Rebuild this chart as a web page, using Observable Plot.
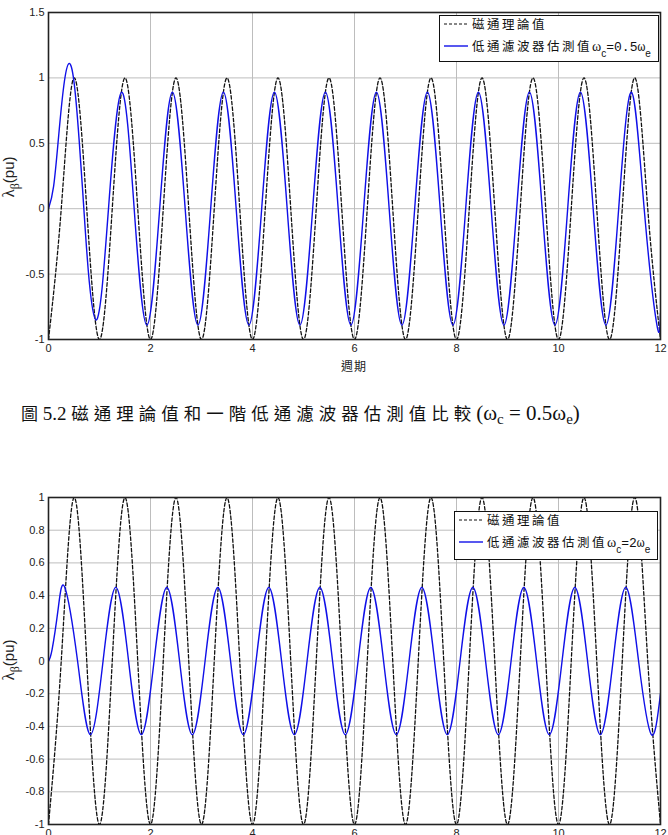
<!DOCTYPE html>
<html>
<head>
<meta charset="utf-8">
<script src="https://cdn.jsdelivr.net/npm/d3@7"></script>
<script src="https://cdn.jsdelivr.net/npm/@observablehq/plot@0.6"></script>
<style>
  html, body { margin: 0; padding: 0; background: #fff; overflow: hidden; }
  #wrap { position: relative; width: 668px; height: 835px; overflow: hidden; background: #fff; }
  #top, #bot { position: absolute; left: 0; }
  #top { top: 0; }
  #bot { top: 485px; }
  #overlay { position: absolute; left: 0; top: 0; pointer-events: none; }
</style>
</head>
<body>
<div id="wrap">
  <div id="top"></div>
  <div id="bot"></div>
  <svg id="overlay" width="668" height="835"></svg>
</div>
<script>
// ---- data ----
const xTicks = [0, 2, 4, 6, 8, 10, 12];
const yTicksTop = [-1, -0.5, 0, 0.5, 1, 1.5];
const yTicksBottom = [-1, -0.8, -0.6, -0.4, -0.2, 0, 0.2, 0.4, 0.6, 0.8, 1];

// theoretical flux (dashed black), sampled at quarter periods
const theoryT = [0,0.25,0.5,0.75,1,1.25,1.5,1.75,2,2.25,2.5,2.75,3,3.25,3.5,3.75,4,4.25,4.5,4.75,5,5.25,5.5,5.75,6,6.25,6.5,6.75,7,7.25,7.5,7.75,8,8.25,8.5,8.75,9,9.25,9.5,9.75,10,10.25,10.5,10.75,11,11.25,11.5,11.75,12];
const theoryY = [-1,0,1,0,-1,0,1,0,-1,0,1,0,-1,0,1,0,-1,0,1,0,-1,0,1,0,-1,0,1,0,-1,0,1,0,-1,0,1,0,-1,0,1,0,-1,0,1,0,-1,0,1,0,-1];

// LPF estimate, wc = 0.5 we (solid blue, top chart)
const lpfHalfT = [0,0.1,0.2,0.3,0.4,0.5,0.6,0.7,0.8,0.93,1.05,1.18,1.43,1.68,1.93,2.18,2.43,2.68,2.93,3.18,3.43,3.68,3.93,4.18,4.43,4.68,4.93,5.18,5.43,5.68,5.93,6.18,6.43,6.68,6.93,7.18,7.43,7.68,7.93,8.18,8.43,8.68,8.93,9.18,9.43,9.68,9.93,10.18,10.43,10.68,10.93,11.18,11.43,11.68,11.93,12];
const lpfHalfY = [0,0.17,0.56,0.94,1.11,0.97,0.53,-0.04,-0.56,-0.85,-0.61,0.02,0.89,0,-0.89,0,0.89,0,-0.89,0,0.89,0,-0.89,0,0.89,0,-0.89,0,0.89,0,-0.89,0,0.89,0,-0.89,0,0.89,0,-0.89,0,0.89,0,-0.89,0,0.89,0,-0.89,0,0.89,0,-0.89,0,0.89,0,-0.89,-0.8];

// LPF estimate, wc = 2 we (solid blue, bottom chart)
const lpfTwoT = [0,0.07,0.19,0.32,0.57,0.82,1.07,1.32,1.57,1.82,2.07,2.32,2.57,2.82,3.07,3.32,3.57,3.82,4.07,4.32,4.57,4.82,5.07,5.32,5.57,5.82,6.07,6.32,6.57,6.82,7.07,7.32,7.57,7.82,8.07,8.32,8.57,8.82,9.07,9.32,9.57,9.82,10.07,10.32,10.57,10.82,11.07,11.32,11.57,11.82,12];
const lpfTwoY = [0,0.07,0.32,0.45,0,-0.45,0,0.45,0,-0.45,0,0.45,0,-0.45,0,0.45,0,-0.45,0,0.45,0,-0.45,0,0.45,0,-0.45,0,0.45,0,-0.45,0,0.45,0,-0.45,0,0.45,0,-0.45,0,0.45,0,-0.45,0,0.45,0,-0.45,0,0.45,0,-0.45,-0.2];

const seriesNames = ["磁通理論值", "低通濾波器估測值"];

// ---- build tables ----
const theory = theoryT.map((t, i) => ({t, v: theoryY[i]}));
const lpfHalf = lpfHalfT.map((t, i) => ({t, v: lpfHalfY[i]}));
const lpfTwo = lpfTwoT.map((t, i) => ({t, v: lpfTwoY[i]}));

const fmt = d => (Math.abs(d) < 1e-9 ? "0" : String(+d.toFixed(1)));

function chart(yDomain, yTicks, est) {
  return Plot.plot({
    width: 668,
    height: 380,
    marginLeft: 48,
    marginRight: 8,
    marginTop: 12,
    marginBottom: 41,
    style: { fontFamily: "'Liberation Sans', Arial, sans-serif", fontSize: "11px", color: "#222", background: "transparent" },
    x: { domain: [0, 12], ticks: xTicks, tickSize: 0, tickPadding: 5, label: null, tickFormat: d => String(d) },
    y: { domain: yDomain, ticks: yTicks, tickSize: 0, tickPadding: 4, label: null, tickFormat: fmt },
    marks: [
      Plot.gridX(xTicks, { stroke: "#bdbdbd", strokeOpacity: 1, strokeWidth: 1 }),
      Plot.gridY(yTicks, { stroke: "#bdbdbd", strokeOpacity: 1, strokeWidth: 1 }),
      Plot.line(theory, { x: "t", y: "v", stroke: "#111", strokeWidth: 1.3, strokeDasharray: "3.5,2.2", curve: "natural", clip: true }),
      Plot.line(est, { x: "t", y: "v", stroke: "#1010e8", strokeWidth: 1.4, curve: "natural", clip: true }),
      Plot.frame({ stroke: "#222", strokeWidth: 1.6 })
    ]
  });
}

document.getElementById("top").appendChild(chart([-1, 1.5], yTicksTop, lpfHalf));
document.getElementById("bot").appendChild(chart([-1, 1], yTicksBottom, lpfTwo));

// ---- overlay texts (labels, legends, caption) ----
const NS = "http://www.w3.org/2000/svg";
const ov = document.getElementById("overlay");
function el(tag, attrs, parent) {
  const e = document.createElementNS(NS, tag);
  for (const k in attrs) e.setAttribute(k, attrs[k]);
  (parent || ov).appendChild(e);
  return e;
}
function tspan(parent, text, attrs) {
  const t = el("tspan", attrs || {}, parent);
  t.textContent = text;
  return t;
}
const CJK = "'Noto Sans CJK TC', 'Noto Sans CJK SC', sans-serif";
const SANS = "'Liberation Sans', Arial, sans-serif";
const SERIF = "'Liberation Serif', 'DejaVu Serif', serif";
const MONO = "'Liberation Mono', 'DejaVu Sans Mono', monospace";

function yLabel(cx, cy) {
  const t = el("text", { transform: `translate(${cx},${cy}) rotate(-90)`, "text-anchor": "middle", fill: "#222" });
  tspan(t, "λ", { "font-family": SERIF, "font-size": 17 });
  tspan(t, "β", { "font-family": SERIF, "font-size": 12, dy: 5 });
  tspan(t, "(pu)", { "font-family": SANS, "font-size": 15, dy: -5 });
}
yLabel(14, 177);
yLabel(14, 660);

// x label of top chart
const xl = el("text", { x: 354, y: 371, "text-anchor": "middle", "font-family": CJK, "font-size": 12, "letter-spacing": 1, fill: "#222" });
xl.textContent = "週期";

function legend(x, y, w, h, ratio) {
  el("rect", { x: x + 0.5, y: y + 0.5, width: w, height: h, fill: "#fff", stroke: "#111", "stroke-width": 1 });
  const r1 = y + 9, r2 = y + 31;
  el("line", { x1: x + 5, x2: x + 29, y1: r1, y2: r1, stroke: "#111", "stroke-width": 1.2, "stroke-dasharray": "3,2" });
  const t1 = el("text", { x: x + 33, y: r1 + 4.5, "font-family": CJK, "font-size": 12.5, "letter-spacing": 2.5, fill: "#111" });
  t1.textContent = seriesNames[0];
  el("line", { x1: x + 5, x2: x + 29, y1: r2, y2: r2, stroke: "#1010e8", "stroke-width": 1.4 });
  const t2 = el("text", { x: x + 33, y: r2 + 4.5, fill: "#111" });
  tspan(t2, seriesNames[1], { "font-family": CJK, "font-size": 12.5, "letter-spacing": 2.5 });
  tspan(t2, "ω", { "font-family": SERIF, "font-size": 14 });
  tspan(t2, "c", { "font-family": SANS, "font-size": 10, dy: 6 });
  tspan(t2, "=" + ratio + "ω", { "font-family": MONO, "font-size": 13, dy: -6 });
  tspan(t2, "e", { "font-family": SANS, "font-size": 10, dy: 6 });
}
legend(439, 15, 219, 46, "0.5");
legend(454, 511, 203, 48, "2");

// caption
const cap = el("text", { x: 21, y: 420, fill: "#111" });
tspan(cap, "圖", { "font-family": CJK, "font-size": 17 });
tspan(cap, " 5.2 ", { "font-family": SERIF, "font-size": 19 });
tspan(cap, "磁通理論值和一階低通濾波器估測值比較", { "font-family": CJK, "font-size": 17.5, "letter-spacing": 5 });
tspan(cap, "(ω", { "font-family": SERIF, "font-size": 21 });
tspan(cap, "c", { "font-family": SERIF, "font-size": 15, dy: 4 });
tspan(cap, " = 0.5ω", { "font-family": SERIF, "font-size": 21, dy: -4 });
tspan(cap, "e", { "font-family": SERIF, "font-size": 15, dy: 4 });
tspan(cap, ")", { "font-family": SERIF, "font-size": 21, dy: -4 });
</script>
</body>
</html>
